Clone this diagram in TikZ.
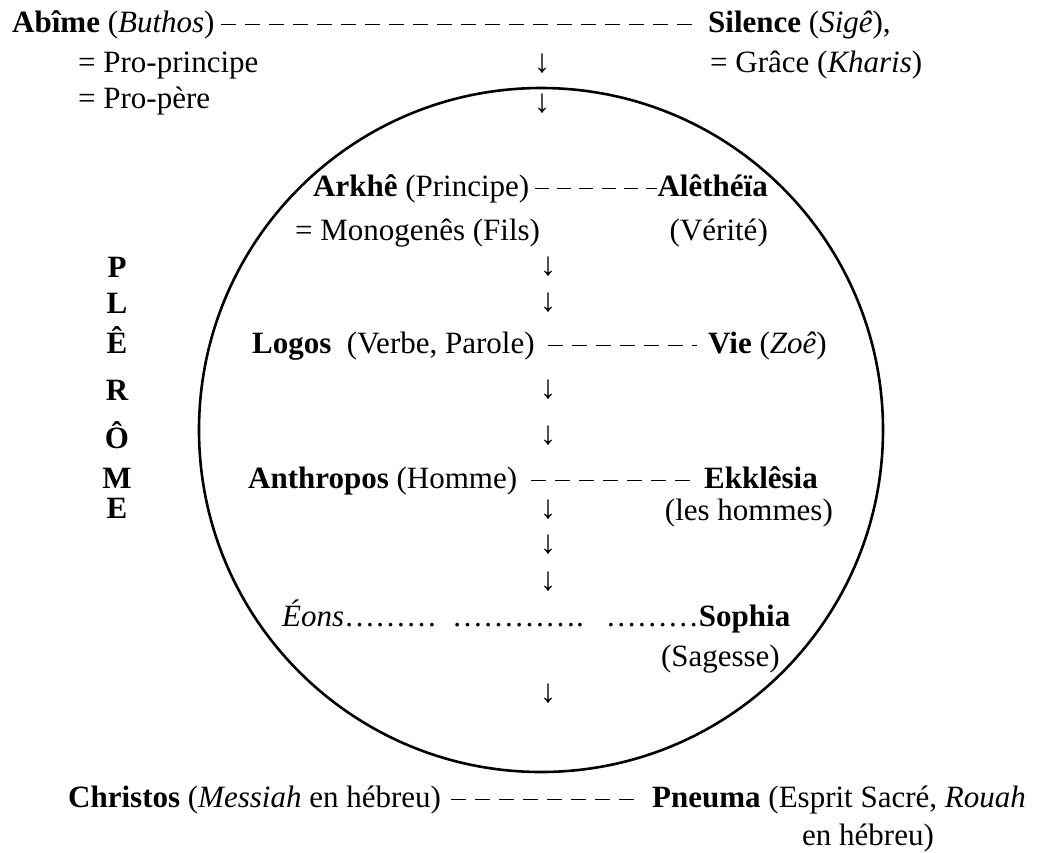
\documentclass[tikz,border=0pt]{standalone}
\usepackage{fontspec}
\setmainfont{Liberation Serif}

\begin{document}
\begin{tikzpicture}[
    x=1pt, y=-1pt,
    term/.style={
        inner sep=0pt,
        font=\fontsize{31}{37}\selectfont
    },
    letter/.style={
        inner sep=0pt,
        anchor=base,
        font=\fontsize{31}{37}\selectfont\bfseries
    },
    pointer/.style={
        inner sep=0pt,
        font=\fontsize{33}{38}\selectfont
    },
    pair/.style={
        line width=1.3pt,
        dash pattern=on 15pt off 9pt
    },
    pleroma/.style={
        draw=black,
        line width=2.6pt
    }
]

\useasboundingbox (0,0) rectangle (1041,852);

% Circle
\draw[pleroma] (541,430) circle [radius=342pt];

% Top pair
\node[term, anchor=base west] (abime) at (12,32) {\textbf{Abîme} (\textit{Buthos})};
\node[term, anchor=base west] (silence) at (708,32) {\textbf{Silence} (\textit{Sigê}),};
\node[term, anchor=base west] (proprincipe) at (78,72) {= Pro-principe};
\node[term, anchor=base west] (grace) at (710,72) {= Grâce (\textit{Kharis})};
\node[term, anchor=base west] (propere) at (78,108) {= Pro-père};

% Inside the circle
\node[term, anchor=base west] (arkhe) at (313,196) {\textbf{Arkhê} (Principe)};
\node[term, anchor=base east] (aletheia) at (768,196) {\textbf{Alêthéïa}};
\node[term, anchor=base west] (monogenes) at (295,240) {= Monogenês (Fils)};
\node[term, anchor=base east] (verite) at (768,240) {(Vérité)};
\node[term, anchor=base west] (logos) at (252,353) {\textbf{Logos}\ \ (Verbe, Parole)};
\node[term, anchor=base west] (vie) at (708,353) {\textbf{Vie} (\textit{Zoê})};
\node[term, anchor=base west] (anthropos) at (248,488) {\textbf{Anthropos} (Homme)};
\node[term, anchor=base east] (ekklesia) at (818,488) {\textbf{Ekklêsia}};
\node[term, anchor=base east] (hommes) at (833,520) {(les hommes)};
\node[term, anchor=base west] (eons) at (282,626) {\textit{Éons}………\hspace{15pt}………….\hspace{22pt}………\textbf{Sophia}};
\node[term, anchor=base east] (sagesse) at (780,666) {(Sagesse)};

% Bottom pair
\node[term, anchor=base west] (christos) at (68,807) {\textbf{Christos} (\textit{Messiah} en hébreu)};
\node[term, anchor=base west] (pneuma) at (652,807) {\textbf{Pneuma} (Esprit Sacré, \textit{Rouah}};
\node[term, anchor=base west] (hebreu) at (802,845) {en hébreu)};

% PLEROME
\foreach \l/\y in {P/277, L/313, Ê/353, R/400, Ô/448, M/488, E/518}
    \node[letter] (pl\y) at (117,\y) {\l};

% Down arrows
\node[pointer] (down1) at (542,64) {↓};
\node[pointer] (down2) at (542,104) {↓};
\foreach \y [count=\i from 3] in {267,303,390,436,510,545,582,694}
    \node[pointer] (down\i) at (548,\y) {↓};

% Dashed links
\draw[pair, shorten <=6pt, shorten >=9pt] (abime.east) -- (abime.east -| silence.west);
\draw[pair, dash pattern=on 14pt off 8pt, shorten <=6pt] (arkhe.east) -- (arkhe.east -| aletheia.west);
\draw[pair, shorten <=13pt, shorten >=11pt] (logos.east) -- (logos.east -| vie.west);
\draw[pair, shorten <=14pt, shorten >=10pt] (anthropos.east) -- (anthropos.east -| ekklesia.west);
\draw[pair, shorten <=10pt, shorten >=9pt] (christos.east) -- (christos.east -| pneuma.west);

\end{tikzpicture}
\end{document}
